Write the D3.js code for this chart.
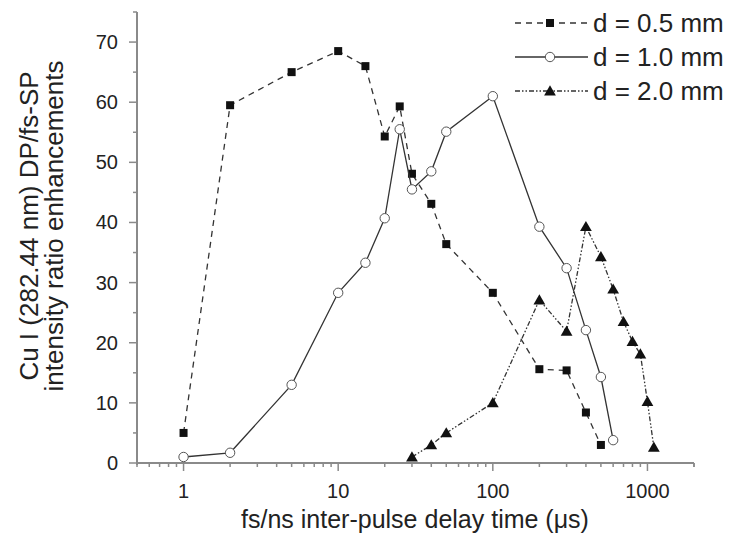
<!DOCTYPE html>
<html>
<head>
<meta charset="utf-8">
<script src="https://cdn.jsdelivr.net/npm/d3@7"></script>
<style>
  body { margin: 0; background: #fff; }
  svg { font-family: "Liberation Sans", Arial, sans-serif; }
</style>
</head>
<body>
<svg width="734" height="539"></svg>
<script>
// delay times (us) and enhancement values per spot size
let delay05 = [1, 2, 5, 10, 15, 20, 25, 30, 40, 50, 100, 200, 300, 400, 500];
let ratio05 = [5, 59.5, 65, 68.5, 66, 54.3, 59.3, 48.1, 43.1, 36.4, 28.3, 15.6, 15.4, 8.4, 3];

let delay10 = [1, 2, 5, 10, 15, 20, 25, 30, 40, 50, 100, 200, 300, 400, 500, 600];
let ratio10 = [1, 1.7, 13, 28.3, 33.3, 40.7, 55.5, 45.5, 48.5, 55.1, 61, 39.3, 32.4, 22.1, 14.3, 3.8];

let delay20 = [30, 40, 50, 100, 200, 300, 400, 500, 600, 700, 800, 900, 1000, 1100];
let ratio20 = [1, 3, 5, 10, 27.1, 21.9, 39.3, 34.3, 28.9, 23.5, 20.2, 18.1, 10.2, 2.6];

let legendLabels = ["d = 0.5 mm", "d = 1.0 mm", "d = 2.0 mm"];
let xTickValues = [1, 10, 100, 1000];
let yTickValues = [0, 10, 20, 30, 40, 50, 60, 70];

let svg = d3.select("svg");
let axisColor = "#8a8a8a";

let x = d3.scaleLog().domain([0.5, 2000]).range([137, 694]);
let y = d3.scaleLinear().domain([0, 75]).range([463, 12]);

// minor ticks on the log axis
let xMinor = [];
[0.1, 1, 10, 100, 1000].forEach(p => {
  for (let k = 2; k <= 9; k++) {
    let v = p * k;
    if (v >= 0.5 && v <= 2000) xMinor.push(v);
  }
});
xMinor.push(2000);
let yMinor = d3.range(5, 80, 10);

let gx = svg.append("g").attr("transform", "translate(0,463)");
gx.append("line").attr("x1", 137).attr("x2", 694)
  .attr("stroke", axisColor).attr("stroke-width", 2);
gx.selectAll("line.major").data(xTickValues).join("line").attr("class", "major")
  .attr("x1", d => x(d)).attr("x2", d => x(d)).attr("y1", 0).attr("y2", 8)
  .attr("stroke", axisColor).attr("stroke-width", 1.5);
gx.selectAll("line.minor").data(xMinor).join("line").attr("class", "minor")
  .attr("x1", d => x(d)).attr("x2", d => x(d)).attr("y1", 0).attr("y2", 4)
  .attr("stroke", axisColor).attr("stroke-width", 1.5);
gx.selectAll("text").data(xTickValues).join("text")
  .attr("x", d => x(d)).attr("y", 35)
  .attr("text-anchor", "middle").attr("font-size", 20).attr("fill", "#222")
  .text(d => d);

let gy = svg.append("g").attr("transform", "translate(137,0)");
gy.append("line").attr("y1", 12).attr("y2", 465)
  .attr("stroke", axisColor).attr("stroke-width", 2);
gy.selectAll("line.major").data(yTickValues).join("line").attr("class", "major")
  .attr("y1", d => y(d)).attr("y2", d => y(d)).attr("x1", 0).attr("x2", -8)
  .attr("stroke", axisColor).attr("stroke-width", 1.5);
gy.selectAll("line.minor").data(yMinor).join("line").attr("class", "minor")
  .attr("y1", d => y(d)).attr("y2", d => y(d)).attr("x1", 0).attr("x2", -4)
  .attr("stroke", axisColor).attr("stroke-width", 1.5);
gy.selectAll("text").data(yTickValues).join("text")
  .attr("x", -19).attr("y", d => y(d) + 7)
  .attr("text-anchor", "end").attr("font-size", 20).attr("fill", "#222")
  .text(d => d);

svg.append("text")
  .attr("x", 415).attr("y", 528)
  .attr("text-anchor", "middle").attr("font-size", 25).attr("fill", "#222")
  .text("fs/ns inter-pulse delay time (\u03bcs)");

let yTitle = svg.append("text")
  .attr("transform", "translate(38,226) rotate(-90)")
  .attr("text-anchor", "middle").attr("font-size", 26).attr("fill", "#222");
yTitle.append("tspan").attr("x", 0).attr("y", 0).text("Cu I (282.44 nm) DP/fs-SP");
yTitle.append("tspan").attr("x", 0).attr("y", 25).text("intensity ratio enhancements");

let series = [
  {xs: delay05, ys: ratio05, dash: "6,5", shape: "square"},
  {xs: delay10, ys: ratio10, dash: null, shape: "circle"},
  {xs: delay20, ys: ratio20, dash: "5,2,1.5,2,1.5,2", shape: "triangle"}
];

function drawMarker(g, shape, cx, cy) {
  if (shape === "square") {
    g.append("rect").attr("x", cx - 4).attr("y", cy - 4).attr("width", 8).attr("height", 8)
      .attr("fill", "#111");
  } else if (shape === "circle") {
    g.append("circle").attr("cx", cx).attr("cy", cy).attr("r", 4.7)
      .attr("fill", "#fff").attr("stroke", "#555").attr("stroke-width", 1);
  } else {
    g.append("path").attr("transform", `translate(${cx},${cy + 1})`)
      .attr("d", d3.symbol(d3.symbolTriangle, 60)()).attr("fill", "#111");
  }
}

let line = d3.line().x(d => x(d[0])).y(d => y(d[1]));

series.forEach(s => {
  let pts = s.xs.map((v, i) => [v, s.ys[i]]);
  svg.append("path").datum(pts).attr("d", line)
    .attr("fill", "none").attr("stroke", "#333").attr("stroke-width", 1.3)
    .attr("stroke-dasharray", s.dash);
  let g = svg.append("g");
  pts.forEach(p => drawMarker(g, s.shape, x(p[0]), y(p[1])));
});

// legend
let leg = svg.append("g");
series.forEach((s, i) => {
  let ly = 23 + i * 34;
  leg.append("line").attr("x1", 515).attr("x2", 588).attr("y1", ly).attr("y2", ly)
    .attr("stroke", "#333").attr("stroke-width", 1.3).attr("stroke-dasharray", s.dash);
  drawMarker(leg, s.shape, 550, ly);
  leg.append("text").attr("x", 593).attr("y", ly + 9)
    .attr("font-size", 26).attr("fill", "#222").text(legendLabels[i]);
});
</script>
</body>
</html>
